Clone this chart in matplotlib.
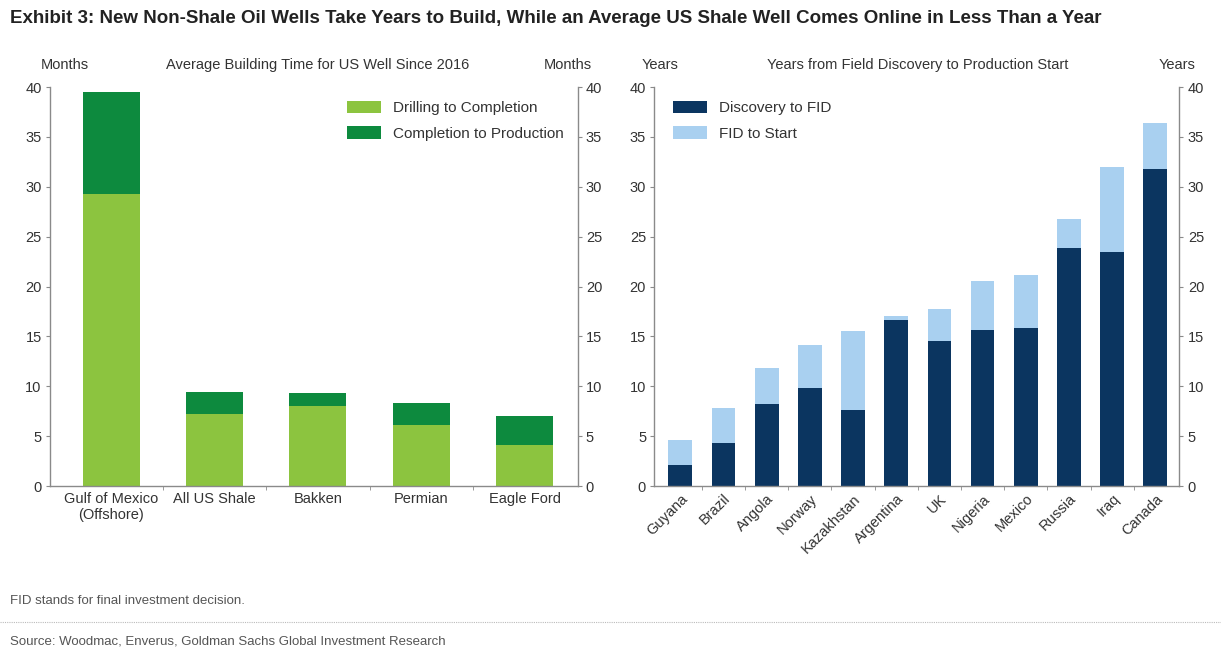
import matplotlib.pyplot as plt
import numpy as np

plt.rcParams['font.family'] = ['Liberation Sans Narrow', 'Liberation Sans', 'DejaVu Sans']

# left panel: average building time for US wells (months)
wells = ['Gulf of Mexico\n(Offshore)', 'All US Shale', 'Bakken', 'Permian', 'Eagle Ford']
drill_to_completion = [29.3, 7.2, 8.0, 6.1, 4.1]
completion_to_prod = [10.2, 2.2, 1.3, 2.2, 2.9]

# right panel: years from field discovery to production start
countries = ['Guyana', 'Brazil', 'Angola', 'Norway', 'Kazakhstan', 'Argentina',
             'UK', 'Nigeria', 'Mexico', 'Russia', 'Iraq', 'Canada']
discovery_to_fid = [2.1, 4.3, 8.2, 9.8, 7.6, 16.6, 14.5, 15.6, 15.8, 23.9, 23.5, 31.8]
fid_to_start = [2.5, 3.5, 3.6, 4.3, 7.9, 0.4, 3.2, 5.0, 5.4, 2.9, 8.5, 4.6]

LIGHT_GREEN = '#8cc43f'
DARK_GREEN = '#0d8a3e'
NAVY = '#0b3560'
LIGHT_BLUE = '#a9d0f0'
AXIS_GREY = '#8a8a8a'
TEXT = '#333333'

fig = plt.figure(figsize=(12.21, 6.53), dpi=100)
ax1 = fig.add_axes([0.041, 0.2557, 0.432, 0.611])
ax2 = fig.add_axes([0.536, 0.2557, 0.430, 0.611])


def style_axis(ax, xlim):
    ax.set_ylim(0, 40)
    ax.set_xlim(*xlim)
    ax.set_yticks(np.arange(0, 41, 5))
    ax.spines['top'].set_visible(False)
    for s in ['left', 'right', 'bottom']:
        ax.spines[s].set_color(AXIS_GREY)
        ax.spines[s].set_linewidth(1.0)
    ax.tick_params(axis='y', which='both', left=True, right=True,
                   labelleft=True, labelright=True, direction='out',
                   length=3, color=AXIS_GREY, labelsize=10.5, labelcolor=TEXT, pad=3)
    ax.tick_params(axis='x', which='major', length=0, labelsize=10.5,
                   labelcolor=TEXT, pad=4)
    ax.tick_params(axis='x', which='minor', length=3, color=AXIS_GREY,
                   direction='out')


x1 = np.arange(len(wells))
ax1.bar(x1, drill_to_completion, width=0.55, color=LIGHT_GREEN,
        label='Drilling to Completion')
ax1.bar(x1, completion_to_prod, width=0.55, bottom=drill_to_completion,
        color=DARK_GREEN, label='Completion to Production')
style_axis(ax1, (-0.59, 4.51))
ax1.set_xticks(x1)
ax1.set_xticklabels(wells)
ax1.set_xticks(x1[:-1] + 0.5, minor=True)
ax1.legend(loc='upper right', bbox_to_anchor=(1.0, 1.0), frameon=False,
           fontsize=11, handlelength=2.2, handleheight=0.9,
           labelspacing=0.7, labelcolor=TEXT)

x2 = np.arange(len(countries))
ax2.bar(x2, discovery_to_fid, width=0.55, color=NAVY, label='Discovery to FID')
ax2.bar(x2, fid_to_start, width=0.55, bottom=discovery_to_fid,
        color=LIGHT_BLUE, label='FID to Start')
style_axis(ax2, (-0.6, 11.56))
ax2.set_xticks(x2)
ax2.set_xticklabels(countries, rotation=45, ha='right', rotation_mode='anchor')
ax2.set_xticks(x2[:-1] + 0.5, minor=True)
ax2.legend(loc='upper left', bbox_to_anchor=(0.01, 1.0), frameon=False,
           fontsize=11, handlelength=2.2, handleheight=0.9,
           labelspacing=0.7, labelcolor=TEXT)

# headers
fig.text(0.008, 0.972, 'Exhibit 3: New Non-Shale Oil Wells Take Years to Build, '
         'While an Average US Shale Well Comes Online in Less Than a Year',
         fontsize=13.5, fontweight='bold', color='#222222', va='center')
hy = 1 - 65 / 653
fig.text(65 / 1221, hy, 'Months', fontsize=10.5, color=TEXT, ha='center', va='center')
fig.text(318 / 1221, hy, 'Average Building Time for US Well Since 2016',
         fontsize=10.5, color=TEXT, ha='center', va='center')
fig.text(568 / 1221, hy, 'Months', fontsize=10.5, color=TEXT, ha='center', va='center')
fig.text(660 / 1221, hy, 'Years', fontsize=10.5, color=TEXT, ha='center', va='center')
fig.text(918 / 1221, hy, 'Years from Field Discovery to Production Start',
         fontsize=10.5, color=TEXT, ha='center', va='center')
fig.text(1177 / 1221, hy, 'Years', fontsize=10.5, color=TEXT, ha='center', va='center')

# footer
fig.text(0.008, 1 - 601 / 653, 'FID stands for final investment decision.',
         fontsize=9.5, color='#555555', va='center')
fig.add_artist(plt.Line2D([0.0, 1.0], [1 - 622 / 653, 1 - 622 / 653],
                          transform=fig.transFigure, color='#bbbbbb',
                          linestyle=(0, (1, 1)), linewidth=0.8))
fig.text(0.008, 1 - 641 / 653, 'Source: Woodmac, Enverus, Goldman Sachs Global Investment Research',
         fontsize=9.5, color='#555555', va='center')

fig.savefig('out.png', dpi=100)
